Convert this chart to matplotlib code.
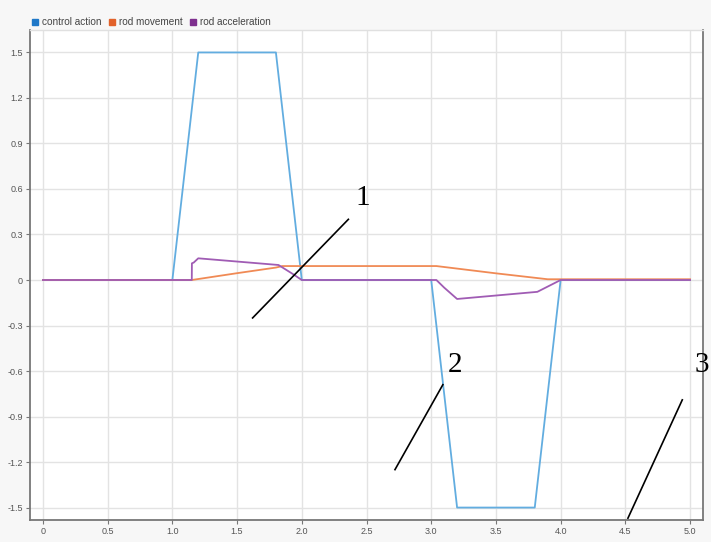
import matplotlib
matplotlib.use("Agg")
import matplotlib.pyplot as plt
from matplotlib.lines import Line2D

plt.rcParams["font.family"] = ["Liberation Sans", "DejaVu Sans"]

# --- signals ---------------------------------------------------------------
t_ctrl = [0.0, 1.0, 1.2, 1.8, 2.0, 3.0, 3.2, 3.8, 4.0, 5.0]
u_ctrl = [0.0, 0.0, 1.5, 1.5, 0.0, 0.0, -1.5, -1.5, 0.0, 0.0]

t_move = [0.0, 1.15, 1.5, 1.8, 1.85, 3.04, 3.5, 3.9, 5.0]
y_move = [0.0, 0.0, 0.045, 0.082, 0.092, 0.092, 0.044, 0.005, 0.005]

t_acc = [0.0, 1.15, 1.151, 1.165, 1.2, 1.82, 1.93, 2.0, 3.04, 3.1, 3.2, 3.82, 4.0, 5.0]
y_acc = [0.0, 0.0, 0.11, 0.115, 0.143, 0.099, 0.04, 0.0, 0.0, -0.05, -0.125, -0.078, 0.0, 0.0]

series_names = ["control action", "rod movement", "rod acceleration"]
legend_colors = ["#1f78c8", "#e2622a", "#7e2f8e"]
line_colors = ["#62ade0", "#f08a55", "#a05cb4"]

x_ticks = [0, 0.5, 1.0, 1.5, 2.0, 2.5, 3.0, 3.5, 4.0, 4.5, 5.0]
x_tick_labels = ["0", "0.5", "1.0", "1.5", "2.0", "2.5", "3.0", "3.5", "4.0", "4.5", "5.0"]
y_ticks = [1.5, 1.2, 0.9, 0.6, 0.3, 0, -0.3, -0.6, -0.9, -1.2, -1.5]
y_tick_labels = ["1.5", "1.2", "0.9", "0.6", "0.3", "0", "-0.3", "-0.6", "-0.9", "-1.2", "-1.5"]

# callout marks: (label, label position, line start, line end) in data units
callouts = [
    ("1", (2.47, 0.54), (1.62, -0.25), (2.36, 0.40)),
    ("2", (3.18, -0.56), (2.72, -1.25), (3.09, -0.69)),
    ("3", (5.09, -0.56), (4.52, -1.57), (4.94, -0.79)),
]

# --- figure ------------------------------------------------------------------
W, H = 711, 542
fig = plt.figure(figsize=(W / 100, H / 100), dpi=100, facecolor="#f7f7f7")
ax = fig.add_axes([30 / W, 1 - 520 / H, 673 / W, 490 / H])
ax.set_facecolor("white")

for t, y, c, name in zip([t_ctrl, t_move, t_acc], [u_ctrl, y_move, y_acc],
                         line_colors, series_names):
    ax.plot(t, y, color=c, lw=1.3, label=name, zorder=3)

ax.set_xlim(-0.1, 5.1)
ax.set_ylim(-1.582, 1.648)
ax.set_xticks(x_ticks)
ax.set_xticklabels(x_tick_labels)
ax.set_yticks(y_ticks)
ax.set_yticklabels(y_tick_labels)
ax.tick_params(labelsize=6.5, labelcolor="#555555", color="#777777",
               length=3, width=0.8, pad=2)
ax.grid(True, color="#e3e3e3", lw=1.0, zorder=0)
ax.set_axisbelow(True)

for side in ["left", "bottom", "right"]:
    ax.spines[side].set_color("#777777")
    ax.spines[side].set_linewidth(1.3)
ax.spines["top"].set_color("#e0e0e0")
ax.spines["top"].set_linewidth(1.0)

for label, (lx, ly), (x0, y0), (x1, y1) in callouts:
    ax.plot([x0, x1], [y0, y1], color="black", lw=1.2, zorder=5, clip_on=False)
    ax.text(lx, ly, label, fontsize=21, family="Liberation Serif",
            ha="center", va="center", zorder=6, clip_on=False)

handles = [Line2D([], [], marker="s", ls="none", markersize=5,
                  markerfacecolor=c, markeredgecolor=c) for c in legend_colors]
fig.legend(handles, series_names, loc="upper left",
           bbox_to_anchor=(21 / W, 1 - 8 / H), ncol=3, frameon=False,
           fontsize=7.2, handletextpad=0.3, columnspacing=0.55,
           handlelength=0.9, labelcolor="#444444")

fig.savefig("out.png", dpi=100, facecolor=fig.get_facecolor())
